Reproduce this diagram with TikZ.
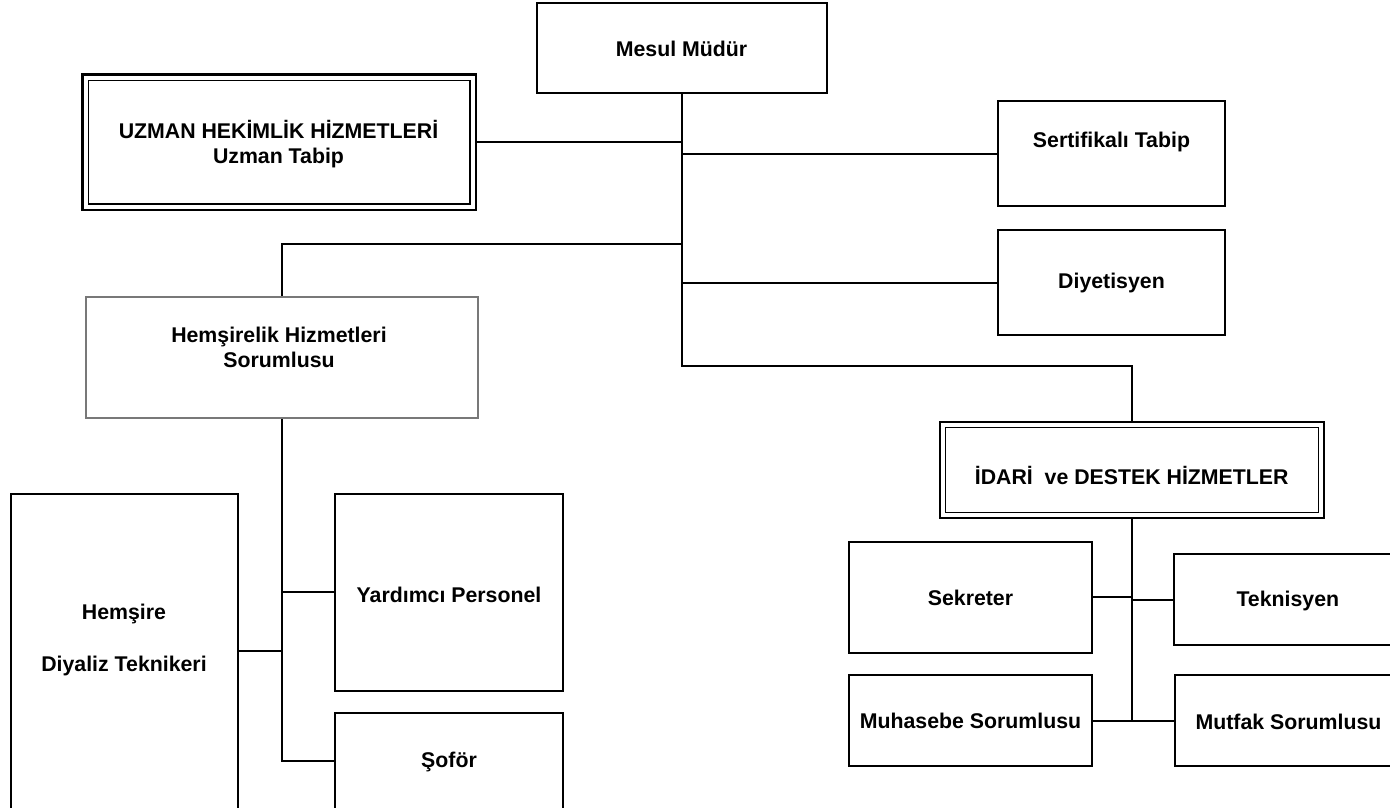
\documentclass[tikz,border=0pt]{standalone}
\usepackage{fontspec}
\setmainfont{Liberation Sans}
\begin{document}
\begin{tikzpicture}[x=1pt,y=-1pt,
  box/.style={draw, line width=2pt, inner sep=0pt},
  graybox/.style={draw={rgb,255:red,120;green,120;blue,120}, line width=2.2pt, inner sep=0pt},
  outerbox/.style={draw, line width=2.8pt, inner sep=0pt},
  innerbox/.style={draw, line width=1.8pt, inner sep=0pt},
  lbl/.style={font=\fontsize{21.3}{25}\selectfont\bfseries, align=center, inner sep=0pt},
  conn/.style={line width=2pt}]
\useasboundingbox (0,0) rectangle (1390,807);
\clip (0,0) rectangle (1390,807);

% boxes
\node[box, minimum width=290, minimum height=90] (mesul) at (681.5,48) {};
\node[outerbox, minimum width=393.5, minimum height=135.5] (uzman) at (279.3,142.3) {};
\node[innerbox, minimum width=381.5, minimum height=123.5] (uzmanin) at (279.3,142.3) {};
\node[box, minimum width=227, minimum height=105] (sert) at (1111.5,153.5) {};
\node[box, minimum width=227, minimum height=105] (diyet) at (1111.5,282.5) {};
\node[graybox, minimum width=392, minimum height=121] (hemsirelik) at (282,357.5) {};
\node[outerbox, minimum width=384, minimum height=96] (idari) at (1132,470) {};
\node[innerbox, minimum width=373, minimum height=85] (idariin) at (1132,470) {};
\node[box, minimum width=227, minimum height=336] (hemsire) at (124.2,662) {};
\node[box, minimum width=227.7, minimum height=196.7] (yardimci) at (449,592.3) {};
\node[box, minimum width=227.7, minimum height=117] (sofor) at (449,771.5) {};
\node[box, minimum width=242.7, minimum height=111] (sekreter) at (970.3,597.2) {};
\node[box, minimum width=226, minimum height=91] (teknisyen) at (1287,599.5) {};
\node[box, minimum width=242.7, minimum height=91] (muhasebe) at (970.3,720.5) {};
\node[box, minimum width=225, minimum height=91] (mutfak) at (1287.5,720.5) {};

% labels
\node[lbl] (tmesul) at (681.5,49) {Mesul Müdür};
\node[lbl] (tuzman) at (278.5,144.2) {UZMAN HEKİMLİK HİZMETLERİ\\Uzman Tabip};
\node[lbl] (tsert) at (1111.5,141.7) {Sertifikalı Tabip};
\node[lbl] (tdiyet) at (1111.5,283) {Diyetisyen};
\node[lbl] (themsirelik) at (279,347) {Hemşirelik Hizmetleri\\Sorumlusu};
\node[lbl] (tidari) at (1131.7,475) {İDARİ\ \ ve DESTEK HİZMETLER};
\node[lbl] (themsire) at (124,640) {Hemşire\\[27pt]Diyaliz Teknikeri};
\node[lbl] (tyardimci) at (449,595) {Yardımcı Personel};
\node[lbl] (tsofor) at (449,762) {Şoför};
\node[lbl] (tsekreter) at (970.5,598.3) {Sekreter};
\node[lbl] (tteknisyen) at (1287.8,601) {Teknisyen};
\node[lbl] (tmuhasebe) at (970.5,721) {Muhasebe Sorumlusu};
\node[lbl] (tmutfak) at (1288.5,721.7) {Mutfak Sorumlusu};

% junction coordinates
\coordinate (j1) at (681.5,366);
\coordinate (t2) at (681.5,244);
\coordinate (t3) at (282,760.7);
\coordinate (t4) at (282,651);
\coordinate (t5) at (1132,720.5);

% connectors
\draw[conn] (mesul.south) -- (j1) -| (idari.north);
\draw[conn] (uzman.east) -- (uzman.east -| mesul.south);
\draw[conn] (sert.west) -- (sert.west -| mesul.south);
\draw[conn] (diyet.west) -- (diyet.west -| mesul.south);
\draw[conn] (hemsirelik.north) |- (t2);
\draw[conn] (hemsirelik.south) -- (t3) -- (t3 -| sofor.west);
\draw[conn] (t4) -- (t4 -| hemsire.east);
\draw[conn] (yardimci.west) -- (yardimci.west -| hemsirelik.south);
\draw[conn] (idari.south) -- (t5);
\draw[conn] (muhasebe.east) -- (mutfak.west);
\draw[conn, line width=1.5pt] (sekreter.east) -- (sekreter.east -| idari.south);
\draw[conn] (teknisyen.west) -- (teknisyen.west -| idari.south);
\end{tikzpicture}
\end{document}
